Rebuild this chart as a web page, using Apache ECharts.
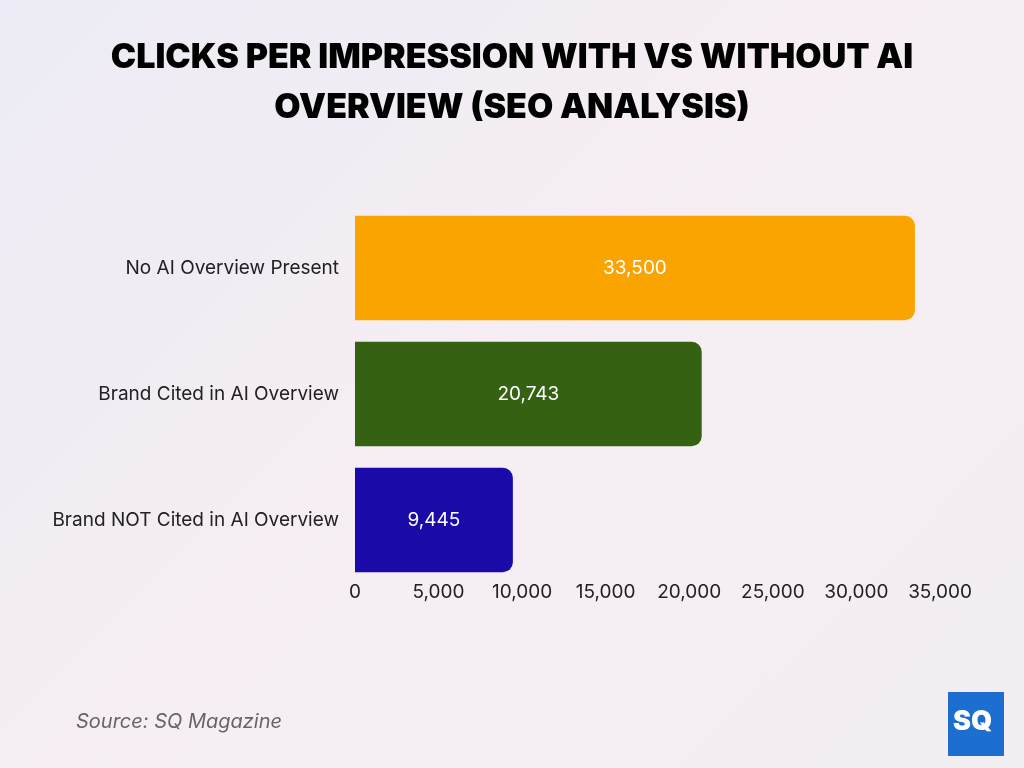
<!DOCTYPE html>
<html>
<head>
<meta charset="utf-8">
<script src="https://cdn.jsdelivr.net/npm/echarts@6/dist/echarts.min.js"></script>
<style>
  html, body { margin: 0; padding: 0; }
  #chart { width: 1024px; height: 768px; background: linear-gradient(135deg, #ecebf5 0%, #f6eef3 50%, #f3eef2 100%); }
</style>
</head>
<body>
<div id="chart"></div>
<script>
// data
const categories = ['No AI Overview Present', 'Brand Cited in AI Overview', 'Brand NOT Cited in AI Overview'];
const clicks = [33500, 20743, 9445];
const barColors = ['#f9a400', '#356212', '#1a0aa8'];

(function () {
    let myChart = echarts.init(document.getElementById('chart'));
    let option = {
        title: {
            text: 'CLICKS PER IMPRESSION WITH VS WITHOUT AI\nOVERVIEW (SEO ANALYSIS)',
            left: 'center',
            top: 28,
            textStyle: { fontFamily: 'Inter', fontWeight: 900, fontSize: 34, lineHeight: 50, color: '#000' }
        },
        grid: { left: 355, right: 84, top: 205, bottom: 185 },
        xAxis: {
            type: 'value',
            min: 0, max: 35000, interval: 5000,
            axisLine: { show: false },
            axisTick: { show: false },
            splitLine: { show: false },
            axisLabel: {
                color: '#222', fontSize: 19, fontFamily: 'Inter', margin: 0,
                formatter: v => v.toLocaleString('en-US')
            }
        },
        yAxis: {
            type: 'category',
            inverse: true,
            data: categories,
            axisLine: { show: false },
            axisTick: { show: false },
            axisLabel: { color: '#222', fontSize: 19, fontFamily: 'Inter', margin: 16 }
        },
        series: [{
            type: 'bar',
            barWidth: '83%',
            data: clicks.map((v, i) => ({ value: v, itemStyle: { color: barColors[i] } })),
            itemStyle: { borderRadius: [0, 10, 10, 0] },
            label: {
                show: true, position: 'inside', color: '#fff', fontSize: 19, fontFamily: 'Inter',
                formatter: p => p.value.toLocaleString('en-US')
            }
        }],
        graphic: [
            { type: 'text', left: 76, top: 712, style: { text: 'Source: SQ Magazine', fill: '#666', font: 'italic 20px Inter' } },
            { type: 'rect', left: 948, top: 692, shape: { width: 56, height: 64 }, style: { fill: '#1c6fd1' } },
            { type: 'text', left: 953, top: 708, style: { text: 'SQ', fill: '#fff', font: '900 27px Inter' } }
        ]
    };
    myChart.setOption(option);
    window.addEventListener('resize', function () { myChart.resize(); });
})();
</script>
</body>
</html>
